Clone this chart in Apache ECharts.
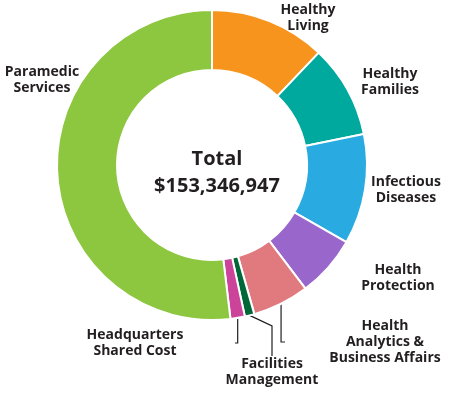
<!DOCTYPE html><html><head><meta charset="utf-8"><script src="https://cdn.jsdelivr.net/npm/echarts@6/dist/echarts.min.js"></script></head><body style="margin:0"><div id="c" style="width:467px;height:415px"></div><script>
var names=["Healthy\nLiving","Healthy\nFamilies","Infectious\nDiseases","Health\nProtection","Health\nAnalytics &\nBusiness Affairs","Facilities\nManagement","Headquarters\nShared Cost","Paramedic\nServices"];
var values=[12.1,9.7,11.5,6.4,5.9,1.0,1.5,51.9];
var colors=["#F7941D","#00A99D","#29ABE2","#9966CC","#E07A7F","#006838","#CC4499","#8DC63F"];
var labelPos=[[308,18],[390,82],[406,190],[398,278],[385,342],[272,372],[135,343],[42,80]];
var lines=[false,false,false,true,true,true,true,false];
var ch=echarts.init(document.getElementById('c'));
ch.setOption({
 title:{text:"Total\n$153,346,947",left:212,top:141,textAlign:'center',textStyle:{fontFamily:'Open Sans',fontWeight:'bold',fontSize:20,lineHeight:27,color:'#231f20'}},
 series:[{type:'pie',center:[212,165],radius:[95,155],startAngle:90,clockwise:true,animation:false,avoidLabelOverlap:false,
  itemStyle:{borderColor:'#fff',borderWidth:2},
  label:{fontFamily:'Open Sans',fontWeight:'bold',fontSize:14,lineHeight:16,color:'#231f20',align:'center',overflow:'none',width:200},
  labelLine:{lineStyle:{color:'#231f20',width:1.2}},
  labelLayout:function(p){var q=labelPos[p.dataIndex];return {x:q[0],y:q[1],align:'center',verticalAlign:'middle',hideOverlap:false};},
  data:names.map(function(n,i){return {name:n,value:values[i],itemStyle:{color:colors[i]},labelLine:{show:lines[i]}};})
 }]
});
</script></body></html>
